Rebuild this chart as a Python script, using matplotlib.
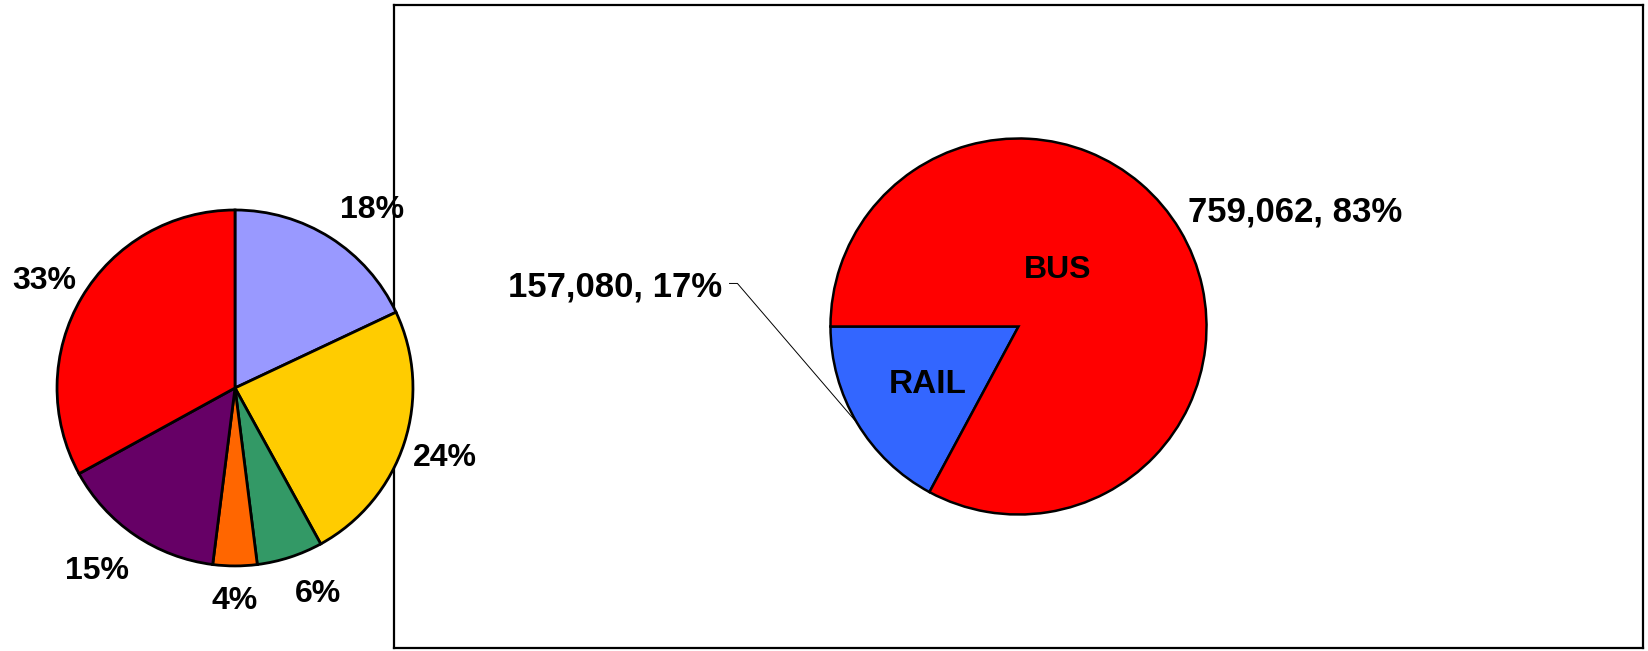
import numpy as np
import matplotlib
matplotlib.use("Agg")
import matplotlib.pyplot as plt

plt.rcParams['font.family'] = ['Liberation Sans', 'DejaVu Sans']
plt.rcParams['font.weight'] = 'bold'

# left pie: shares, clockwise from 12 o'clock
left_shares = [18, 24, 6, 4, 15, 33]
left_colors = ['#9999FF', '#FFCC00', '#339966', '#FF6600', '#660066', '#FF0000']
# label placement: (distance in radii, angle shift from slice middle, deg)
left_label_pos = [(1.28, -4.6), (1.24, 0.4), (1.23, 4.2), (1.18, 0.0), (1.27, -3.3), (1.24, 0.6)]

# right pie: boardings by mode
modes = ['RAIL', 'BUS']
boardings = [157080, 759062]
mode_colors = ['#3366FF', '#FF0000']

W, H = 1648, 651
fig = plt.figure(figsize=(W / 100, H / 100), dpi=100)

# right panel with its frame
axr = fig.add_axes([394 / W, 3 / H, 1249 / W, 643 / H])
wedges, _ = axr.pie(boardings, colors=mode_colors, startangle=180, counterclock=True,
                    radius=1, frame=True,
                    wedgeprops=dict(edgecolor='black', linewidth=1.8))
axr.set_xlim(-3.32, 3.32)
axr.set_ylim(-1.71, 1.71)
axr.set_aspect('equal')
axr.set_xticks([])
axr.set_yticks([])
for s in axr.spines.values():
    s.set_linewidth(1.6)
    s.set_color('black')

total = sum(boardings)
pcts = [round(100 * v / total) for v in boardings]
mids = [np.deg2rad((w.theta1 + w.theta2) / 2) for w in wedges]

# inner labels
axr.text(0.56 * np.cos(mids[0]), 0.56 * np.sin(mids[0]), modes[0],
         ha='center', va='center_baseline', fontsize=24, fontweight='bold')
axr.text(0.21, 0.32, modes[1], ha='center', va='center_baseline', fontsize=23, fontweight='bold')

# outer value labels
axr.text(0.90, 0.63, f"{boardings[1]:,}, {pcts[1]}%", ha='left', va='center_baseline',
         fontsize=25, fontweight='bold')
axr.text(-1.574, 0.229, f"{boardings[0]:,}, {pcts[0]}%", ha='right', va='center_baseline',
         fontsize=25, fontweight='bold')
axr.plot([-1.537, -1.495, np.cos(mids[0])], [0.229, 0.229, np.sin(mids[0])],
         color='black', linewidth=0.7)

# left pie, drawn over the frame
axl = fig.add_axes([0, 0, 470 / W, 1])
lw, _, lt = axl.pie(left_shares, colors=left_colors, startangle=90, counterclock=False,
                    radius=1, autopct=lambda p: f"{p:.0f}%", pctdistance=1.25,
                    wedgeprops=dict(edgecolor='black', linewidth=2),
                    textprops=dict(fontsize=23, fontweight='bold', color='black'))
for w, t, (d, shift) in zip(lw, lt, left_label_pos):
    a = np.deg2rad((w.theta1 + w.theta2) / 2 + shift)
    t.set_position((d * np.cos(a), d * np.sin(a)))
    t.set_va('center_baseline')
axl.set_xlim(-1.32, 1.32)
axl.set_ylim(-1.478, 2.18)
axl.set_aspect('equal')
axl.axis('off')

fig.savefig("out.png", dpi=100)
